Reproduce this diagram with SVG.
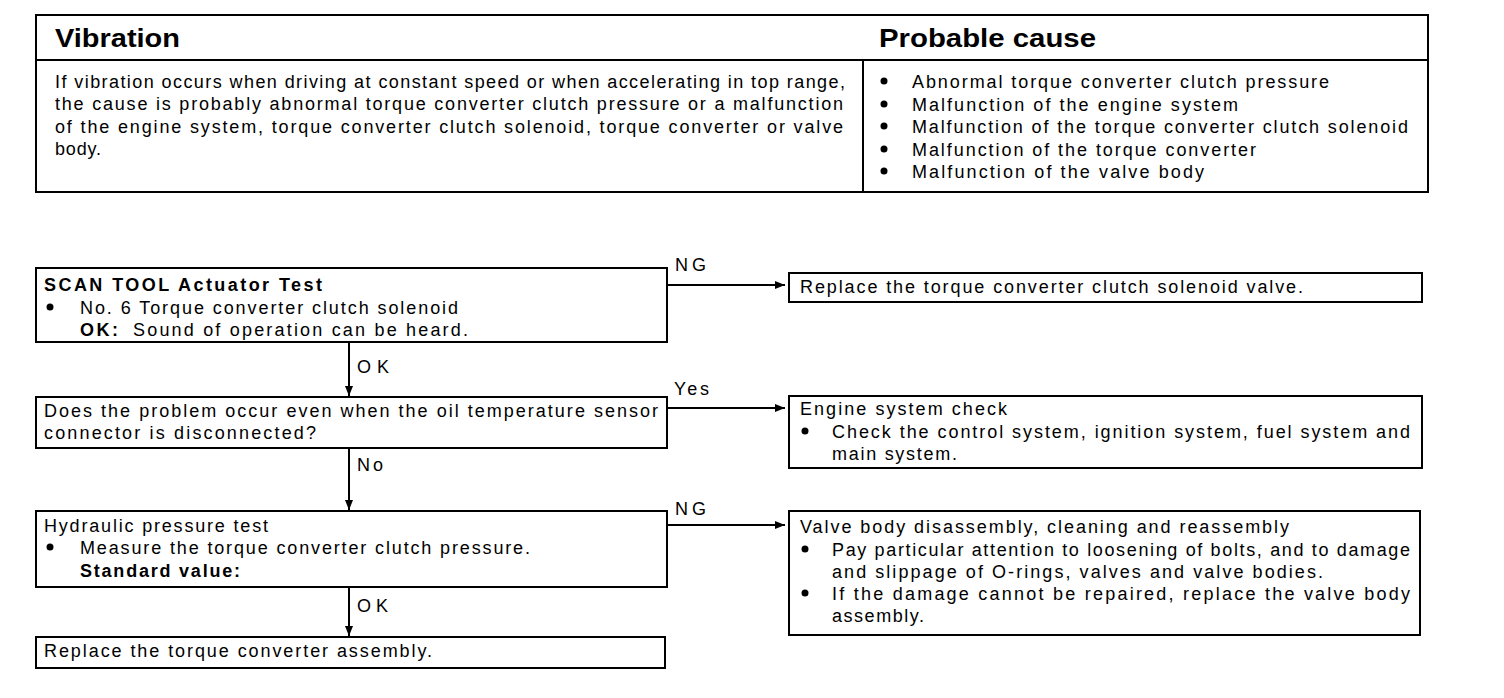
<svg xmlns="http://www.w3.org/2000/svg" width="1504" height="698" viewBox="0 0 1504 698">
<style>
text{font-family:"Liberation Sans",Arial,sans-serif;font-size:18px;fill:#000}
.h{font-size:26px;font-weight:bold}
.b{font-weight:bold}
.lb{font-size:18px}
.box{fill:#fff;stroke:#000;stroke-width:2}
.ln{fill:none;stroke:#000;stroke-width:2}
.dot{fill:#000}
</style>
<defs>
<marker id="ah" viewBox="0 0 10 8" refX="10" refY="4" markerWidth="10" markerHeight="8" markerUnits="userSpaceOnUse" orient="auto">
<path d="M0,0 L10,4 L0,8 z" fill="#000"/>
</marker>
</defs>
<rect width="1504" height="698" fill="#fff"/>

<g id="table">
<rect class="box" x="36" y="15" width="1392" height="177"/>
<line class="ln" x1="36" y1="60" x2="1428" y2="60"/>
<line class="ln" x1="863" y1="60" x2="863" y2="192"/>
<text class="h" x="55" y="47" textLength="125" lengthAdjust="spacingAndGlyphs">Vibration</text>
<text class="h" x="879" y="47" textLength="217" lengthAdjust="spacingAndGlyphs">Probable cause</text>
<text x="55" y="88" textLength="790" lengthAdjust="spacing">If vibration occurs when driving at constant speed or when accelerating in top range,</text>
<text x="55" y="110" textLength="788" lengthAdjust="spacing">the cause is probably abnormal torque converter clutch pressure or a malfunction</text>
<text x="55" y="133" textLength="788" lengthAdjust="spacing">of the engine system, torque converter clutch solenoid, torque converter or valve</text>
<text x="55" y="155" textLength="46" lengthAdjust="spacing">body.</text>
<circle class="dot" cx="884" cy="81" r="3.5"/>
<circle class="dot" cx="884" cy="104" r="3.5"/>
<circle class="dot" cx="884" cy="126" r="3.5"/>
<circle class="dot" cx="884" cy="149" r="3.5"/>
<circle class="dot" cx="884" cy="171" r="3.5"/>
<text x="912" y="88" textLength="417" lengthAdjust="spacing">Abnormal torque converter clutch pressure</text>
<text x="912" y="111" textLength="326" lengthAdjust="spacing">Malfunction of the engine system</text>
<text x="912" y="133" textLength="496" lengthAdjust="spacing">Malfunction of the torque converter clutch solenoid</text>
<text x="912" y="156" textLength="344" lengthAdjust="spacing">Malfunction of the torque converter</text>
<text x="912" y="178" textLength="292" lengthAdjust="spacing">Malfunction of the valve body</text>
</g>

<g id="n1">
<rect class="box" x="36" y="268" width="631" height="74"/>
<text class="b" x="44" y="291" textLength="278" lengthAdjust="spacing">SCAN TOOL Actuator Test</text>
<circle class="dot" cx="50" cy="307" r="3.5"/>
<text x="80" y="314" textLength="378" lengthAdjust="spacing">No. 6 Torque converter clutch solenoid</text>
<text class="b" x="80" y="336" textLength="38" lengthAdjust="spacing">OK:</text>
<text x="133" y="336" textLength="335" lengthAdjust="spacing">Sound of operation can be heard.</text>
</g>

<g id="r1">
<rect class="box" x="789" y="273" width="633" height="29"/>
<text x="800" y="293" textLength="503" lengthAdjust="spacing">Replace the torque converter clutch solenoid valve.</text>
</g>

<g id="n2">
<rect class="box" x="36" y="397" width="631" height="51"/>
<text x="44" y="417" textLength="614" lengthAdjust="spacing">Does the problem occur even when the oil temperature sensor</text>
<text x="44" y="439" textLength="272" lengthAdjust="spacing">connector is disconnected?</text>
</g>

<g id="r2">
<rect class="box" x="789" y="396" width="633" height="72"/>
<text x="800" y="415" textLength="207" lengthAdjust="spacing">Engine system check</text>
<circle class="dot" cx="805" cy="431" r="3.5"/>
<text x="832" y="438" textLength="578" lengthAdjust="spacing">Check the control system, ignition system, fuel system and</text>
<text x="832" y="460" textLength="125" lengthAdjust="spacing">main system.</text>
</g>

<g id="n3">
<rect class="box" x="36" y="511" width="631" height="76"/>
<text x="44" y="532" textLength="224" lengthAdjust="spacing">Hydraulic pressure test</text>
<circle class="dot" cx="50" cy="547" r="3.5"/>
<text x="80" y="554" textLength="450" lengthAdjust="spacing">Measure the torque converter clutch pressure.</text>
<text class="b" x="80" y="577" textLength="160" lengthAdjust="spacing">Standard value:</text>
</g>

<g id="r3">
<rect class="box" x="789" y="511" width="631" height="124"/>
<text x="800" y="533" textLength="489" lengthAdjust="spacing">Valve body disassembly, cleaning and reassembly</text>
<circle class="dot" cx="805" cy="549" r="3.5"/>
<text x="832" y="556" textLength="578" lengthAdjust="spacing">Pay particular attention to loosening of bolts, and to damage</text>
<text x="832" y="578" textLength="491" lengthAdjust="spacing">and slippage of O-rings, valves and valve bodies.</text>
<circle class="dot" cx="805" cy="593" r="3.5"/>
<text x="832" y="600" textLength="578" lengthAdjust="spacing">If the damage cannot be repaired, replace the valve body</text>
<text x="832" y="622" textLength="92" lengthAdjust="spacing">assembly.</text>
</g>

<g id="n4">
<rect class="box" x="36" y="637" width="629" height="31"/>
<text x="44" y="657" textLength="388" lengthAdjust="spacing">Replace the torque converter assembly.</text>
</g>

<g id="connectors">
<line class="ln" x1="667" y1="285" x2="785" y2="285" marker-end="url(#ah)"/>
<text class="lb" x="675" y="271" textLength="31" lengthAdjust="spacing">NG</text>
<line class="ln" x1="349" y1="342" x2="349" y2="396" marker-end="url(#ah)"/>
<text class="lb" x="357" y="373" textLength="32" lengthAdjust="spacing">OK</text>
<line class="ln" x1="667" y1="408" x2="785" y2="408" marker-end="url(#ah)"/>
<text class="lb" x="674" y="395" textLength="35" lengthAdjust="spacing">Yes</text>
<line class="ln" x1="349" y1="448" x2="349" y2="510" marker-end="url(#ah)"/>
<text class="lb" x="357" y="471" textLength="26" lengthAdjust="spacing">No</text>
<line class="ln" x1="667" y1="525" x2="785" y2="525" marker-end="url(#ah)"/>
<text class="lb" x="675" y="515" textLength="31" lengthAdjust="spacing">NG</text>
<line class="ln" x1="349" y1="587" x2="349" y2="636" marker-end="url(#ah)"/>
<text class="lb" x="357" y="612" textLength="31" lengthAdjust="spacing">OK</text>
</g>
</svg>
